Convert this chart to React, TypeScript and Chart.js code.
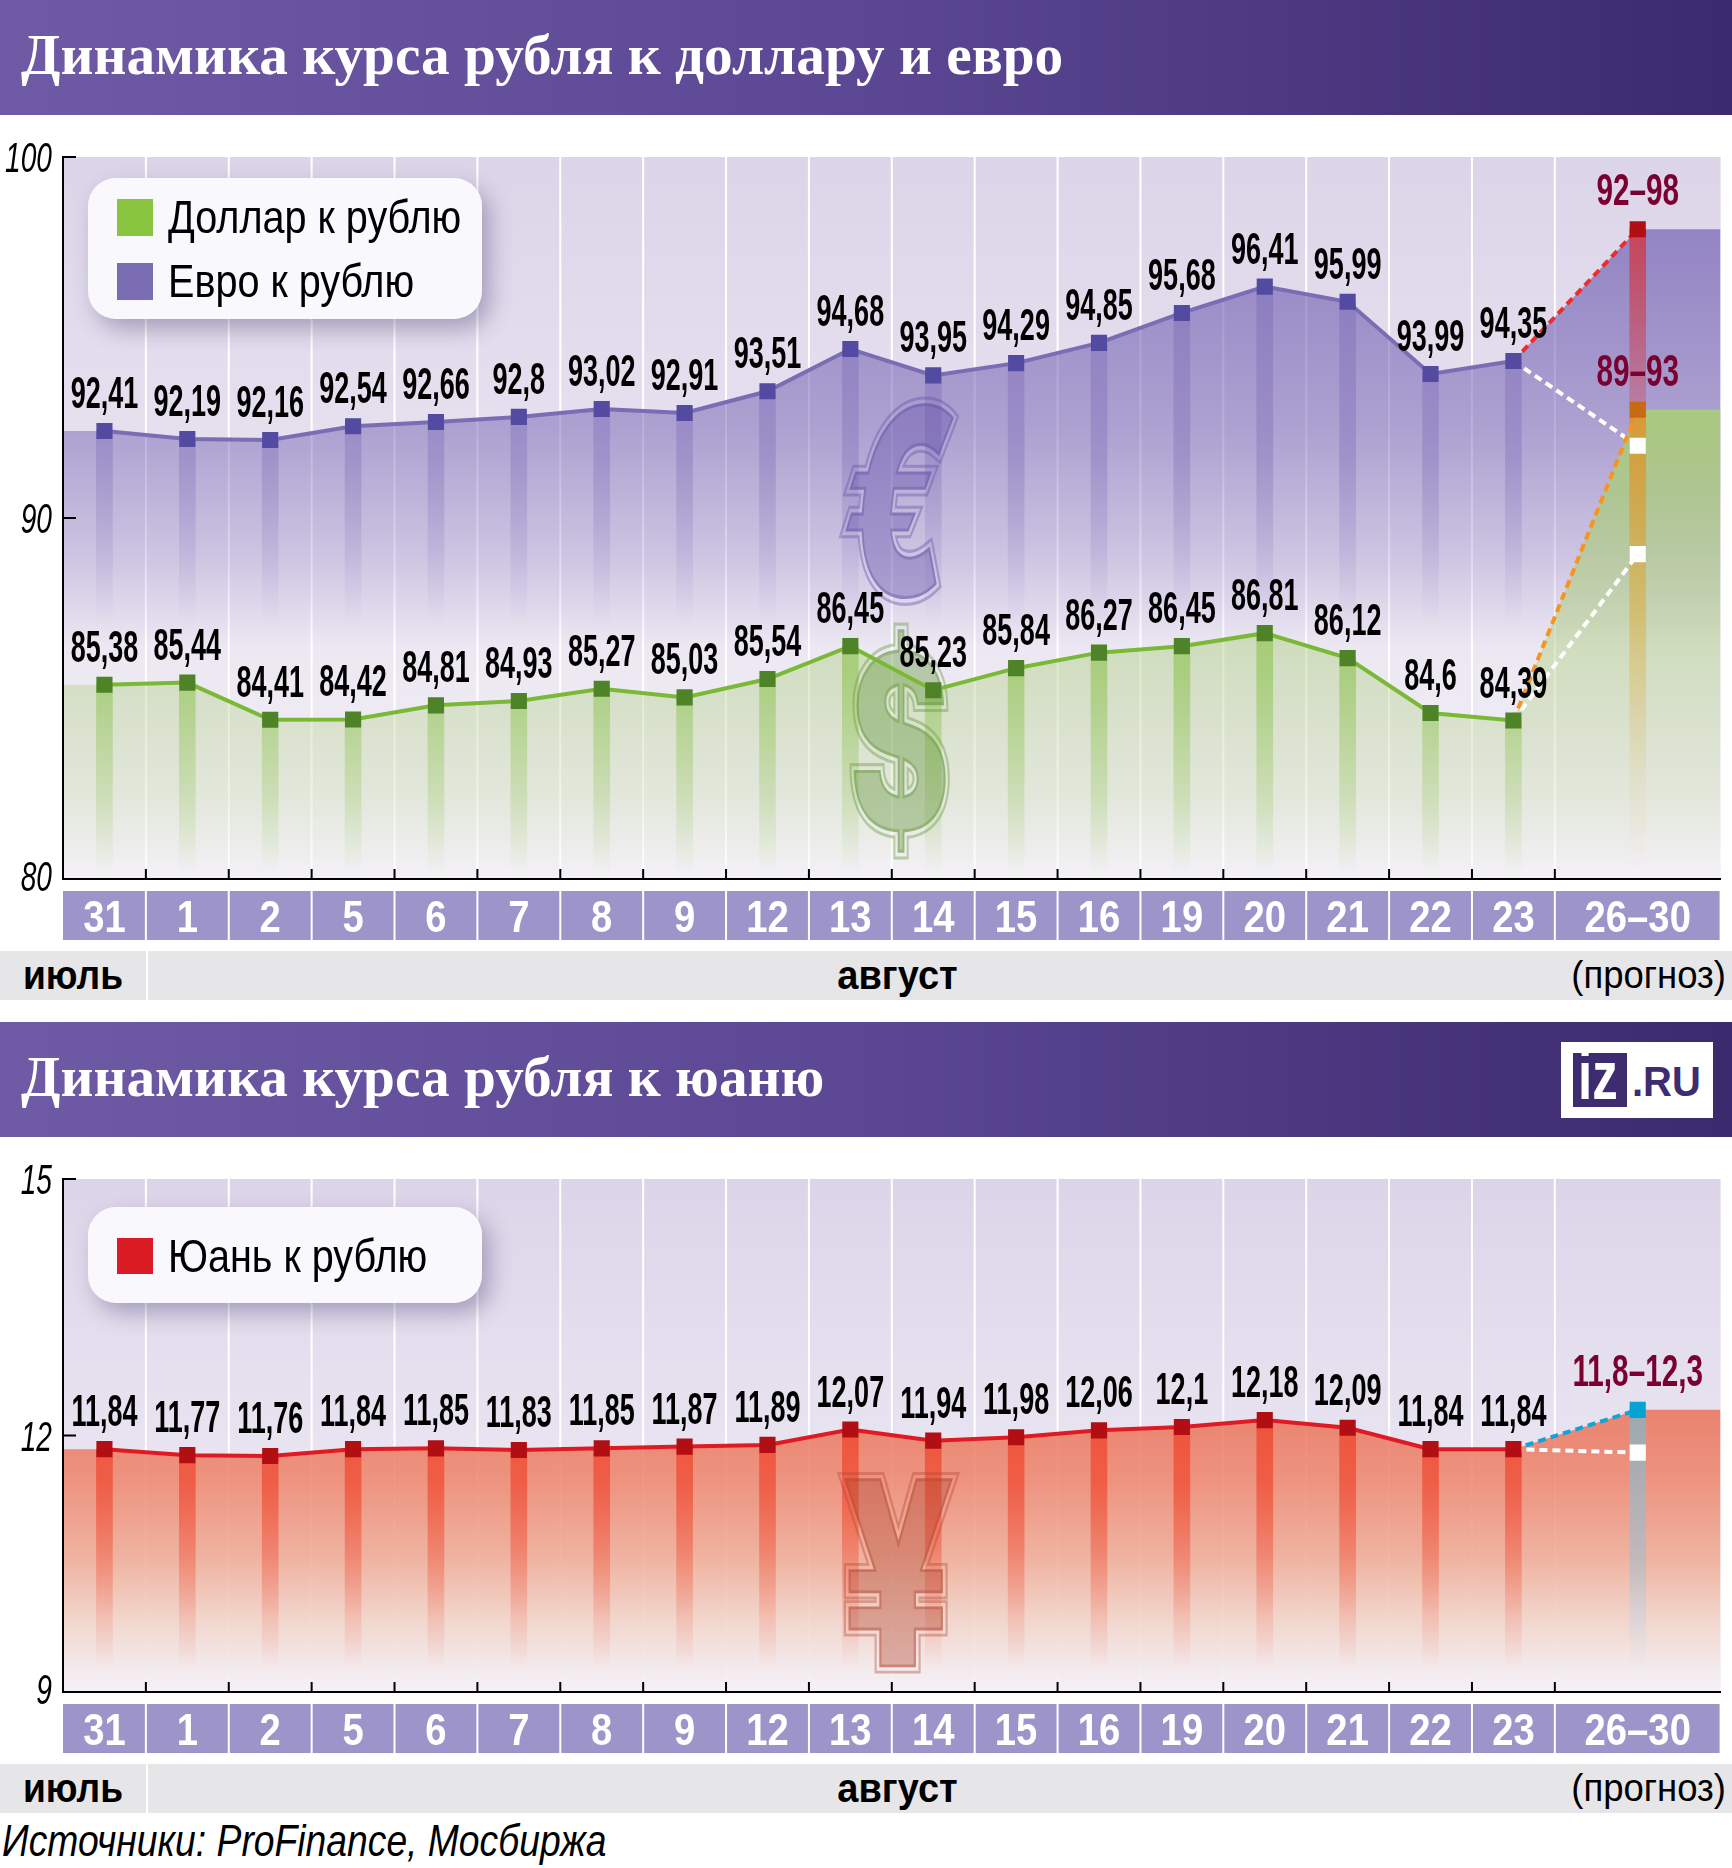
import React, { useEffect, useRef } from "react";
import { Chart, registerables } from "chart.js";

Chart.register(...registerables);

const categories = ["31", "1", "2", "5", "6", "7", "8", "9", "12", "13", "14", "15", "16", "19", "20", "21", "22", "23"];
const forecastCategory = "26–30";
const euroValues = [92.41, 92.19, 92.16, 92.54, 92.66, 92.8, 93.02, 92.91, 93.51, 94.68, 93.95, 94.29, 94.85, 95.68, 96.41, 95.99, 93.99, 94.35];
const dollarValues = [85.38, 85.44, 84.41, 84.42, 84.81, 84.93, 85.27, 85.03, 85.54, 86.45, 85.23, 85.84, 86.27, 86.45, 86.81, 86.12, 84.6, 84.39];
const yuanValues = [11.84, 11.77, 11.76, 11.84, 11.85, 11.83, 11.85, 11.87, 11.89, 12.07, 11.94, 11.98, 12.06, 12.1, 12.18, 12.09, 11.84, 11.84];
const euroForecast = [92, 98];
const dollarForecast = [89, 93];
const yuanForecast = [11.8, 12.3];
const euroForecastLabel = "92–98";
const dollarForecastLabel = "89–93";
const yuanForecastLabel = "11,8–12,3";

const SANS = '"Liberation Sans", sans-serif';
const slots = categories.map((_, i) => i);
const lastSlot = slots[slots.length - 1];
const forecastSlot = categories.length + 0.5;
const rightEdge = categories.length + 1.5;
const leftEdge = -0.5;

const fmt = (v: number) => String(v).replace(".", ",");
const pts = (vals: number[]) => vals.map((y, i) => ({ x: slots[i], y }));

function glyphCanvas(ch: string, font: string, w: number, h: number, color: string, ringIn: number, ringOut: number) {
  const pad = 14;
  const off = document.createElement("canvas");
  off.width = w + pad * 2;
  off.height = h + pad * 2;
  const g = off.getContext("2d")!;
  g.font = font;
  g.textBaseline = "alphabetic";
  const m = g.measureText(ch);
  const gw = m.actualBoundingBoxLeft + m.actualBoundingBoxRight;
  const gh = m.actualBoundingBoxAscent + m.actualBoundingBoxDescent;
  const sx = w / gw;
  const sy = h / gh;
  g.translate(pad, pad);
  g.scale(sx, sy);
  g.translate(m.actualBoundingBoxLeft, m.actualBoundingBoxAscent);
  g.lineJoin = "miter";
  g.fillStyle = color;
  g.strokeStyle = color;
  const avg = (sx + sy) / 2;
  g.lineWidth = (ringOut * 2) / avg;
  g.strokeText(ch, 0, 0);
  g.fillText(ch, 0, 0);
  g.globalCompositeOperation = "destination-out";
  g.strokeStyle = "#000";
  g.lineWidth = (ringIn * 2) / avg;
  g.strokeText(ch, 0, 0);
  return { off, pad };
}

type Glyph = { ch: string; font: string; x: number; y: number; w: number; h: number; color: string };
type Spec = {
  min: number;
  max: number;
  step: number;
  datasets: any[];
  labelled: number[];
  forecastLabels: { text: string; index: number }[];
  glyphs: Glyph[];
  glyphAfterOrder: number;
};

function squeezed(ctx: any, s: string, px: number, py: number, color: string, font: string, sx: number, align: string) {
  ctx.save();
  ctx.translate(px, py);
  ctx.scale(sx, 1);
  ctx.fillStyle = color;
  ctx.font = font;
  ctx.textAlign = align;
  ctx.textBaseline = "alphabetic";
  ctx.fillText(s, 0, 0);
  ctx.restore();
}

function makePlugin(spec: Spec) {
  return {
    id: "look",
    beforeDraw(chart: any) {
      const { ctx, chartArea: a, scales } = chart;
      const x = scales.x;
      ctx.save();
      const bg = ctx.createLinearGradient(0, a.top, 0, a.bottom);
      bg.addColorStop(0, "#dcd5e9");
      bg.addColorStop(1, "#f4f1f7");
      ctx.fillStyle = bg;
      ctx.fillRect(a.left, a.top, a.right - a.left, a.bottom - a.top);
      ctx.fillStyle = "#ffffff";
      const bounds = [...slots.map((s) => s + 0.5)];
      bounds.forEach((b) => {
        const px = x.getPixelForValue(b);
        ctx.fillRect(px - 1, a.top, 2, a.bottom - a.top);
      });
      ctx.fillStyle = "#9d95c9";
      const edges = [leftEdge, ...bounds, rightEdge];
      for (let i = 0; i < edges.length - 1; i++) {
        const l = x.getPixelForValue(edges[i]);
        const r = x.getPixelForValue(edges[i + 1]);
        ctx.fillRect(l + (i ? 1 : 0), a.bottom + 12, r - l - (i ? 2 : 1), 49);
      }
      x.ticks.forEach((t: any) => {
        squeezed(ctx, t.label, x.getPixelForValue(t.value), a.bottom + 53, "#fff", `bold 45px ${SANS}`, 0.85, "center");
      });
      const y = scales.y;
      y.ticks.forEach((t: any) => {
        const py = y.getPixelForValue(t.value);
        squeezed(ctx, t.label, 52, py + (t.value === spec.min ? 12 : 15), "#000", `italic 42px ${SANS}`, 0.67, "right");
      });
      ctx.restore();
    },
    afterDatasetDraw(chart: any, args: any) {
      const ds = chart.data.datasets[args.index];
      if (ds.order !== spec.glyphAfterOrder) return;
      const { ctx } = chart;
      spec.glyphs.forEach((gl) => {
        const { off, pad } = glyphCanvas(gl.ch, gl.font, gl.w, gl.h, gl.color, 1.5, 4);
        ctx.drawImage(off, gl.x - pad, gl.y - pad);
      });
    },
    afterDatasetsDraw(chart: any) {
      const { ctx, chartArea: a, scales } = chart;
      const x = scales.x;
      const y = scales.y;
      ctx.save();
      ctx.fillStyle = "#000";
      slots.forEach((s) => {
        const px = x.getPixelForValue(s + 0.5);
        ctx.fillRect(px - 1, a.bottom - 10, 2, 10);
      });
      y.ticks.forEach((t: any) => {
        if (t.value === spec.min) return;
        const py = y.getPixelForValue(t.value);
        ctx.fillRect(a.left, py - 1, 13, 2);
      });
      const font = `bold 45px ${SANS}`;
      spec.labelled.forEach((index) => {
        const meta = chart.getDatasetMeta(index);
        const vals = chart.data.datasets[index].data;
        meta.data.forEach((p: any, i: number) => squeezed(ctx, fmt(vals[i].y), p.x, p.y - 23, "#000", font, 0.6, "center"));
      });
      spec.forecastLabels.forEach(({ text: s, index }) => {
        const meta = chart.getDatasetMeta(index);
        const p = meta.data[meta.data.length - 1];
        squeezed(ctx, s, p.x, p.y - 24, "#7a0030", font, 0.66, "center");
      });
      ctx.restore();
    },
  };
}

function CurrencyChart({ spec, top, height }: { spec: Spec; top: number; height: number }) {
  const ref = useRef<HTMLCanvasElement | null>(null);
  useEffect(() => {
    const chart = new Chart(ref.current!, {
      type: "line",
      data: { datasets: spec.datasets },
      plugins: [makePlugin(spec)],
      options: {
        responsive: false,
        maintainAspectRatio: false,
        devicePixelRatio: 1,
        animation: false,
        layout: { padding: { top: 30, left: 0, right: 0, bottom: 0 } },
        plugins: { legend: { display: false }, tooltip: { enabled: false } },
        scales: {
          x: {
            type: "linear",
            min: leftEdge,
            max: rightEdge,
            offset: false,
            bounds: "data",
            grid: { display: false, offset: false, drawTicks: false, tickLength: 0 },
            border: { display: true, color: "#000", width: 2, z: 1 },
            afterBuildTicks: (s: any) => {
              s.ticks = [...slots, forecastSlot].map((value) => ({ value }));
            },
            afterFit: (s: any) => {
              s.height = 61;
            },
            ticks: {
              display: false,
              autoSkip: false,
              maxRotation: 0,
              minRotation: 0,
              callback: (_: any, i: number) => [...categories, forecastCategory][i],
            },
          },
          y: {
            type: "linear",
            min: spec.min,
            max: spec.max,
            bounds: "data",
            grid: { display: false, drawTicks: false, tickLength: 0 },
            border: { display: true, color: "#000", width: 2, z: 1 },
            afterFit: (s: any) => {
              s.width = 63;
            },
            ticks: { display: false, stepSize: spec.step },
          },
        },
      },
    } as any);
    return () => chart.destroy();
  }, []);
  return <canvas ref={ref} width={1732} height={height} style={{ position: "absolute", left: 0, top, display: "block" }} />;
}

const vGrad = (stops: [number, string][], fromTop: number, toBottom: number) => (c: any) => {
  const { ctx } = c.chart;
  const g = ctx.createLinearGradient(0, fromTop, 0, toBottom);
  stops.forEach(([p, col]) => g.addColorStop(p, col));
  return g;
};

const area = (vals: number[], tail: number, bg: any, order: number) => ({
  type: "line",
  data: [{ x: leftEdge, y: vals[0] }, ...pts(vals), { x: forecastSlot, y: tail }, { x: rightEdge, y: tail }],
  borderWidth: 0,
  pointRadius: 0,
  fill: "start",
  backgroundColor: bg,
  tension: 0,
  order,
});
const bars = (data: any[], bg: any, order: number) => ({
  type: "bar",
  data,
  barThickness: 16,
  grouped: false,
  backgroundColor: bg,
  borderWidth: 0,
  order,
});
const line = (vals: number[], col: string, mark: string, order: number) => ({
  type: "line",
  data: pts(vals),
  borderColor: col,
  borderWidth: 4,
  pointStyle: "rect",
  pointRadius: 11.4,
  pointBackgroundColor: mark,
  pointBorderWidth: 0,
  fill: false,
  tension: 0,
  order,
});
const dash = (from: number, to: number, col: string, mark: string, order: number) => ({
  type: "line",
  data: [{ x: lastSlot, y: from }, { x: forecastSlot, y: to }],
  borderColor: col,
  borderWidth: 4,
  borderDash: [8, 5],
  pointStyle: "rect",
  pointRadius: [0, 11.4],
  pointBackgroundColor: mark,
  pointBorderWidth: 0,
  fill: false,
  tension: 0,
  order,
});

// canvas-space pixel rows of the gradients (canvas 1 starts at page y 127, canvas 2 at 1149)
const fxTop = 30;
const fxBottom = 752;
const fyTop = 261;
const fyBottom = 543;

const fxDatasets = [
  area(euroValues, euroForecast[1], vGrad([[0, "rgba(118,100,180,0.75)"], [0.1, "rgba(118,100,180,0.72)"], [0.38, "rgba(118,100,180,0.5)"], [0.55, "rgba(118,100,180,0.25)"], [0.68, "rgba(118,100,180,0)"]], fxTop, fxBottom), 20),
  area(dollarValues, dollarForecast[1], vGrad([[0.35, "rgba(170,205,120,0.92)"], [0.56, "rgba(170,205,120,0.58)"], [0.73, "rgba(170,205,120,0.37)"], [0.89, "rgba(170,205,120,0.2)"], [1, "rgba(170,205,120,0)"]], fxTop, fxBottom), 19),
  bars(pts(euroValues), vGrad([[0.15, "rgba(118,100,180,0.38)"], [0.42, "rgba(118,100,180,0.32)"], [0.65, "rgba(118,100,180,0)"]], fxTop, fxBottom), 18),
  bars(pts(dollarValues), vGrad([[0.6, "rgba(130,190,60,0.55)"], [0.72, "rgba(130,190,60,0.5)"], [0.89, "rgba(130,190,60,0.22)"], [0.995, "rgba(130,190,60,0)"]], fxTop, fxBottom), 17),
  bars([{ x: forecastSlot, y: euroForecast[1] }], vGrad([[0.1, "rgba(215,50,60,0.78)"], [0.32, "rgba(215,50,60,0.34)"], [0.4, "rgba(215,50,60,0.2)"], [0.55, "rgba(215,50,60,0)"]], fxTop, fxBottom), 16),
  bars([{ x: forecastSlot, y: dollarForecast[1] }], vGrad([[0.35, "rgba(240,150,20,0.6)"], [0.62, "rgba(225,160,30,0.45)"], [0.85, "rgba(225,170,60,0.1)"], [0.99, "rgba(225,170,60,0)"]], fxTop, fxBottom), 15),
  line(euroValues, "#7a6cb5", "#524ba1", 6),
  line(dollarValues, "#7ab935", "#4f8327", 5),
  dash(euroValues[lastSlot], euroForecast[1], "#ee2b2f", "#b10f14", 14),
  dash(euroValues[lastSlot], euroForecast[0], "#ffffff", "#ffffff", 13),
  dash(dollarValues[lastSlot], dollarForecast[1], "#f7931e", "#c86a14", 12),
  dash(dollarValues[lastSlot], dollarForecast[0], "#ffffff", "#ffffff", 11),
];

const yuanDatasets = [
  area(yuanValues, yuanForecast[1], vGrad([[0, "rgba(234,118,93,0.88)"], [0.25, "rgba(238,136,112,0.88)"], [0.53, "rgba(240,172,150,0.88)"], [0.74, "rgba(242,210,198,0.88)"], [0.94, "rgba(243,236,240,0.88)"], [1, "rgba(244,240,245,0.6)"]], fyTop, fyBottom), 20),
  bars(pts(yuanValues), vGrad([[0, "rgba(240,70,45,0.8)"], [0.25, "rgba(240,70,45,0.7)"], [0.53, "rgba(240,70,45,0.38)"], [0.74, "rgba(240,70,45,0.15)"], [0.92, "rgba(240,70,45,0)"]], fyTop, fyBottom), 18),
  bars([{ x: forecastSlot, y: yuanForecast[1] }], vGrad([[0, "rgba(156,168,177,1)"], [0.25, "rgba(174,173,179,1)"], [0.53, "rgba(191,185,189,0.95)"], [0.74, "rgba(216,211,216,0.8)"], [0.92, "rgba(230,225,230,0)"]], fyTop, fyBottom), 16),
  line(yuanValues, "#e01a22", "#b10f14", 6),
  dash(yuanValues[lastSlot], yuanForecast[1], "#0ea5d8", "#05a3d3", 14),
  dash(yuanValues[lastSlot], yuanForecast[0], "#ffffff", "#ffffff", 13),
];

const fxSpec: Spec = {
  min: 80,
  max: 100,
  step: 10,
  datasets: fxDatasets,
  labelled: [6, 7],
  forecastLabels: [
    { text: euroForecastLabel, index: 8 },
    { text: dollarForecastLabel, index: 10 },
  ],
  glyphs: [
    { ch: "€", font: 'italic 900 200px Inter, "Liberation Sans"', x: 843, y: 275, w: 113, h: 199, color: "rgba(100,80,170,0.4)" },
    { ch: "$", font: '900 200px Inter, "Liberation Sans"', x: 852, y: 500, w: 95, h: 229, color: "rgba(100,150,60,0.4)" },
  ],
  glyphAfterOrder: 15,
};
const yuanSpec: Spec = {
  min: 9,
  max: 15,
  step: 3,
  datasets: yuanDatasets,
  labelled: [3],
  forecastLabels: [{ text: yuanForecastLabel, index: 4 }],
  glyphs: [{ ch: "¥", font: '900 200px Inter, "Liberation Sans"', x: 841, y: 327, w: 114, h: 193, color: "rgba(175,70,50,0.38)" }],
  glyphAfterOrder: 16,
};

const headerStyle = (top: number): React.CSSProperties => ({
  position: "absolute",
  left: 0,
  top,
  width: 1732,
  height: 115,
  background: "linear-gradient(90deg,#6f5aa6 0%,#5b4793 50%,#3c2a6e 100%)",
  color: "#fff",
  font: 'bold 57.3px "Liberation Serif", serif',
  lineHeight: "110px",
  paddingLeft: 21,
  boxSizing: "border-box",
  whiteSpace: "nowrap",
});
const abs = (l: number, t: number, w: number, h: number, extra: React.CSSProperties = {}): React.CSSProperties => ({
  position: "absolute",
  left: l,
  top: t,
  width: w,
  height: h,
  ...extra,
});
const card: React.CSSProperties = {
  background: "rgba(250,249,253,0.97)",
  borderRadius: 28,
  boxShadow: "8px 10px 22px rgba(70,60,110,0.38)",
};
const legendText: React.CSSProperties = {
  position: "absolute",
  font: `46px ${SANS}`,
  color: "#000",
  whiteSpace: "nowrap",
  lineHeight: "50px",
  transform: "scaleX(0.86)",
  transformOrigin: "left center",
};

function Months({ top }: { top: number }) {
  return (
    <>
      <div style={abs(0, top, 146, 49, { background: "#e6e6e8" })} />
      <div style={abs(148, top, 1584, 49, { background: "#e6e6e8" })} />
      <div style={abs(0, top, 146, 49, { textAlign: "center", font: `bold 40px ${SANS}`, lineHeight: "48px", color: "#000", transform: "scaleX(0.93)" })}>июль</div>
      <div style={abs(800, top, 195, 49, { textAlign: "center", font: `bold 40px ${SANS}`, lineHeight: "48px", color: "#000", transform: "scaleX(0.95)" })}>август</div>
      <div style={abs(1500, top, 226, 49, { textAlign: "right", font: `38px ${SANS}`, lineHeight: "48px", color: "#000", transform: "scaleX(0.96)", transformOrigin: "right center" })}>(прогноз)</div>
    </>
  );
}

export default function App() {
  return (
    <div style={abs(0, 0, 1732, 1868, { background: "#fff", overflow: "hidden" })}>
      <div style={headerStyle(0)}>Динамика курса рубля к доллару и евро</div>
      <CurrencyChart spec={fxSpec} top={127} height={813} />
      <div style={abs(88, 178, 394, 141, card)} />
      <div style={abs(117, 199, 36, 37, { background: "#8ac53f" })} />
      <div style={abs(117, 263, 36, 37, { background: "#7a6db3" })} />
      <div style={{ ...legendText, left: 168, top: 192 }}>Доллар к рублю</div>
      <div style={{ ...legendText, left: 168, top: 256 }}>Евро к рублю</div>
      <Months top={951} />

      <div style={headerStyle(1022)}>Динамика курса рубля к юаню</div>
      <div style={abs(1561, 1042, 152, 76, { background: "#fff" })} />
      <div style={abs(1573, 1053, 54, 54, { background: "#3d2c6f", overflow: "hidden" })}>
        <div style={abs(5, -12, 60, 68, { color: "#fff", font: `bold 68px ${SANS}`, lineHeight: "68px", transform: "scaleX(0.75)", transformOrigin: "left center" })}>iz</div>
      </div>
      <div style={abs(1632, 1056, 82, 50, { color: "#3d2c6f", font: `bold 43px ${SANS}`, lineHeight: "50px", transform: "scaleX(0.93)", transformOrigin: "left center" })}>.RU</div>
      <CurrencyChart spec={yuanSpec} top={1149} height={604} />
      <div style={abs(88, 1207, 394, 96, card)} />
      <div style={abs(117, 1238, 36, 36, { background: "#dc1c24" })} />
      <div style={{ ...legendText, left: 168, top: 1231 }}>Юань к рублю</div>
      <Months top={1764} />
      <div style={abs(2, 1816, 800, 50, { font: `italic 44px ${SANS}`, lineHeight: "50px", color: "#000", whiteSpace: "nowrap", transform: "scaleX(0.847)", transformOrigin: "left center" })}>Источники: ProFinance, Мосбиржа</div>
    </div>
  );
}
